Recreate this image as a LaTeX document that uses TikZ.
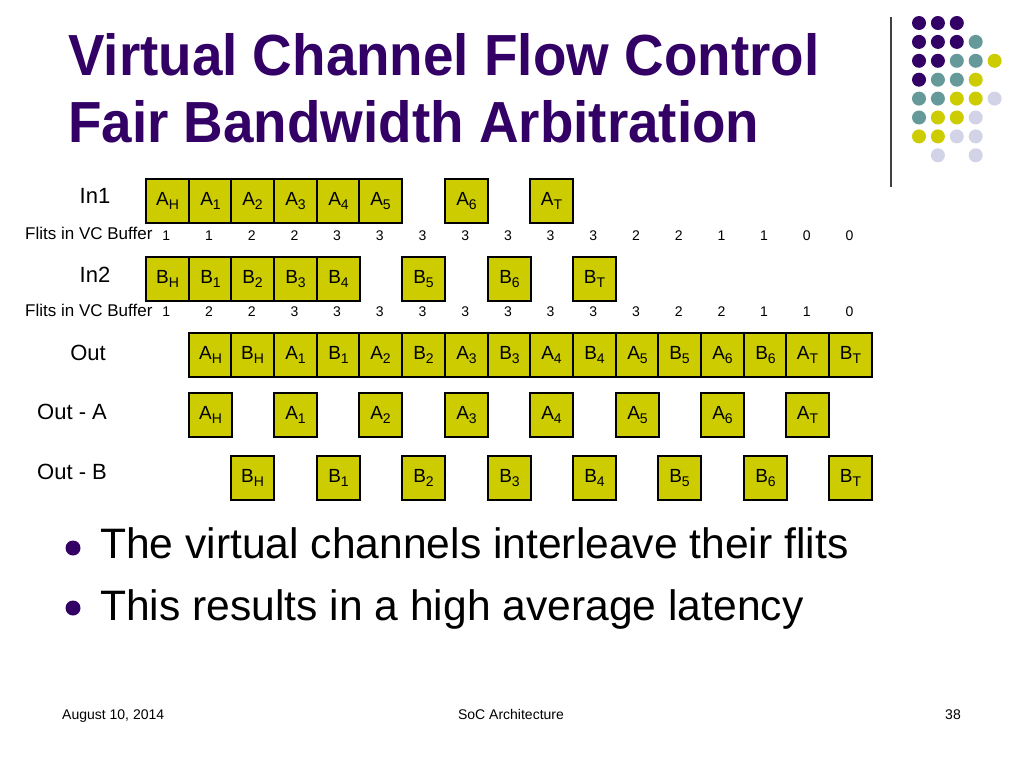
\documentclass[tikz,border=0pt]{standalone}
\usepackage{fontspec}
\setmainfont{Liberation Sans}
\definecolor{ttl}{HTML}{330066}
\definecolor{flitfill}{HTML}{CCCC00}
\definecolor{dotP}{HTML}{330066}
\definecolor{dotT}{HTML}{669999}
\definecolor{dotY}{HTML}{CCCC00}
\definecolor{dotL}{HTML}{D3D3E8}
\newcommand\fl[2]{#1\raisebox{-4.5pt}{\fontsize{14}{14}\selectfont #2}}
\begin{document}
\begin{tikzpicture}[x=1pt,y=-1pt,
  flit/.style={draw=black, line width=2pt, fill=flitfill, minimum width=43pt,
    minimum height=44pt, inner sep=0pt, anchor=north west, font=\fontsize{19}{19}\selectfont},
  num/.style={font=\fontsize{14}{14}\selectfont, inner sep=0pt},
  rowlab/.style={font=\fontsize{22}{22}\selectfont, inner sep=0pt},
  buflab/.style={font=\fontsize{17}{17}\selectfont, inner sep=0pt, anchor=west},
  titletext/.style={font=\fontsize{58}{58}\selectfont\bfseries, text=ttl, inner sep=0pt, anchor=base west},
  bullettext/.style={font=\fontsize{42.6}{42.6}\selectfont, inner sep=0pt, anchor=base west},
  foot/.style={font=\fontsize{14}{14}\selectfont, inner sep=0pt},
  dot/.style={circle, inner sep=0pt, minimum size=14pt}
]
\useasboundingbox (0,0) rectangle (1024,768);
\fill[white] (0,0) rectangle (1024,768);

% title
\node[titletext] (t1) at (68,75) {\scalebox{0.945}[1]{Virtual Channel Flow Control}};
\node[titletext] (t2) at (68,142) {\scalebox{0.945}[1]{Fair Bandwidth Arbitration}};

% decoration
\draw[line width=1.2pt, color=black!75] (891,17) -- (891,187);
\foreach \r/\c/\col in {0/0/dotP,0/1/dotP,0/2/dotP,
  1/0/dotP,1/1/dotP,1/2/dotP,1/3/dotT,
  2/0/dotP,2/1/dotP,2/2/dotT,2/3/dotT,2/4/dotY,
  3/0/dotP,3/1/dotT,3/2/dotT,3/3/dotY,
  4/0/dotT,4/1/dotT,4/2/dotY,4/3/dotY,4/4/dotL,
  5/0/dotT,5/1/dotY,5/2/dotY,5/3/dotL,
  6/0/dotY,6/1/dotY,6/2/dotL,6/3/dotL,
  7/1/dotL,7/3/dotL}
  \node[dot, fill=\col] (d\r-\c) at (919+18.9*\c, 23+18.9*\r) {};

% row labels
\node[rowlab] (lin1) at (95,196) {In1};
\node[rowlab] (lin2) at (95,275) {In2};
\node[rowlab] (lout) at (88,353) {Out};
\node[rowlab, anchor=west] (louta) at (37,412) {Out - A};
\node[rowlab, anchor=west] (loutb) at (37,472) {Out - B};
\node[buflab] (lbuf1) at (25,233) {Flits in VC Buffer};
\node[buflab] (lbuf2) at (25,310) {Flits in VC Buffer};

% In1
\foreach \k/\s in {0/H,1/1,2/2,3/3,4/4,5/5,7/6,9/T}
  \node[flit] (a\k) at ({145+round(42.7*\k)},178) {\fl{A}{\s}};
% In2
\foreach \k/\s in {0/H,1/1,2/2,3/3,4/4,6/5,8/6,10/T}
  \node[flit] (b\k) at ({145+round(42.7*\k)},256) {\fl{B}{\s}};

% buffer counts
\foreach \v [count=\k from 0] in {1,1,2,2,3,3,3,3,3,3,3,2,2,1,1,0,0}
  \node[num] (na\k) at (166.3+42.7*\k,236) {\v};
\foreach \v [count=\k from 0] in {1,2,2,3,3,3,3,3,3,3,3,3,2,2,1,1,0}
  \node[num] (nb\k) at (166.3+42.7*\k,312) {\v};

% Out
\foreach \c/\s [count=\k] in {A/H,B/H,A/1,B/1,A/2,B/2,A/3,B/3,A/4,B/4,A/5,B/5,A/6,B/6,A/T,B/T}
  \node[flit] (o\k) at ({145+round(42.7*\k)},332) {\fl{\c}{\s}};
% Out - A
\foreach \s [count=\i from 0] in {H,1,2,3,4,5,6,T}
  \node[flit] (oa\i) at ({145+round(42.7*(1+2*\i))},392) {\fl{A}{\s}};
% Out - B
\foreach \s [count=\i from 0] in {H,1,2,3,4,5,6,T}
  \node[flit] (ob\i) at ({145+round(42.7*(2+2*\i))},455) {\fl{B}{\s}};

% bullets
\fill[ttl] (73,548) circle (7.5);
\fill[ttl] (73,608) circle (7.5);
\node[bullettext] (bl1) at (100,558) {The virtual channels interleave their flits};
\node[bullettext] (bl2) at (100,620) {This results in a high average latency};

% footer
\node[foot, anchor=base west] (fdate) at (62,719) {August 10, 2014};
\node[foot, anchor=base] (ftitle) at (511,719) {SoC Architecture};
\node[foot, anchor=base east] (fpage) at (961,719) {38};
\end{tikzpicture}
\end{document}
